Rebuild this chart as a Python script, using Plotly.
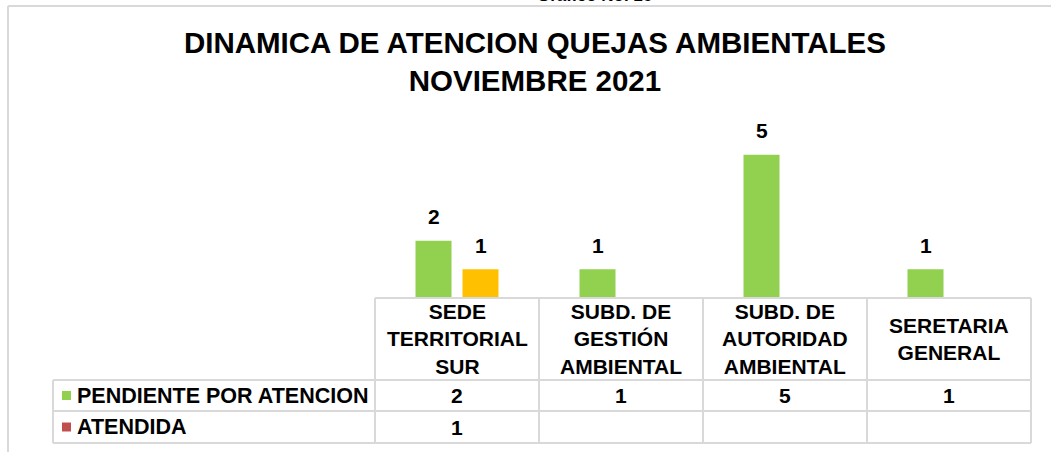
"""
チャート生成モジュール
Plotlyで苦情対応状況の棒グラフ（データテーブル付き）を描画
"""
import plotly.graph_objects as go


# データ
categories = ['SEDE<br>TERRITORIAL<br>SUR', 'SUBD. DE<br>GESTIÓN<br>AMBIENTAL',
              'SUBD. DE<br>AUTORIDAD<br>AMBIENTAL', 'SERETARIA<br>GENERAL']
pendiente = [2, 1, 5, 1]
atendida = [1, None, None, None]
series_names = ['PENDIENTE POR ATENCION', 'ATENDIDA']
bar_colors = ['#92D050', '#FFC000']
legend_colors = ['#92D050', '#C0504D']
title_text = 'DINAMICA DE ATENCION QUEJAS AMBIENTALES<br>NOVIEMBRE 2021'
caption_text = 'Gráfico No. 16'

FONT = 'Liberation Sans, Arial, sans-serif'
GRID = '#D9D9D9'


def px_x(p: float) -> float:
    """ピクセル位置（横）をpaper座標に変換"""
    return (p - 375) / 656


def px_y(p: float) -> float:
    """ピクセル位置（縦）をpaper座標に変換"""
    return (298 - p) / 172


def create_chart() -> go.Figure:
    """
    グループ棒グラフ＋データテーブルを生成

    Returns:
        Plotly Figure オブジェクト
    """
    fig = go.Figure()

    # 棒グラフ
    for name, values, color in zip(series_names, [pendiente, atendida], bar_colors):
        fig.add_trace(
            go.Bar(
                x=categories,
                y=values,
                name=name,
                marker=dict(color=color, line=dict(width=0)),
                showlegend=False,
                hoverinfo='skip'
            )
        )

    # データラベル（棒の上）
    for i, values in enumerate([pendiente, atendida]):
        shift = -23.5 if i == 0 else 23.5
        for cat, val in zip(categories, values):
            if val is None:
                continue
            fig.add_annotation(
                x=cat, y=val, xref='x', yref='y',
                text=str(val), showarrow=False,
                xshift=shift, yshift=24, yanchor='middle',
                font=dict(family=FONT, size=21, color='black', weight='bold')
            )

    # テーブル罫線
    line = dict(color=GRID, width=2)
    cols = [375, 539, 703, 867, 1031]
    for c in cols:
        fig.add_shape(type='line', xref='paper', yref='paper',
                      x0=px_x(c), x1=px_x(c), y0=px_y(298), y1=px_y(443), line=line)
    fig.add_shape(type='line', xref='paper', yref='paper',
                  x0=px_x(53), x1=px_x(53), y0=px_y(380), y1=px_y(443), line=line)
    fig.add_shape(type='line', xref='paper', yref='paper',
                  x0=px_x(375), x1=px_x(1031), y0=px_y(298), y1=px_y(298), line=line)
    for r in [380, 411, 443]:
        fig.add_shape(type='line', xref='paper', yref='paper',
                      x0=px_x(53), x1=px_x(1031), y0=px_y(r), y1=px_y(r), line=line)

    # グラフ外枠
    fig.add_shape(type='line', xref='paper', yref='paper',
                  x0=px_x(8), x1=px_x(8), y0=px_y(6), y1=px_y(470), line=line)
    fig.add_shape(type='line', xref='paper', yref='paper',
                  x0=px_x(8), x1=px_x(1070), y0=px_y(6), y1=px_y(6), line=line)

    # テーブル見出し（カテゴリ名）
    for cat in categories:
        fig.add_annotation(
            x=cat, y=px_y(339), xref='x', yref='paper',
            text=cat, showarrow=False, yanchor='middle',
            font=dict(family=FONT, size=21, color='black', weight='bold')
        )

    # テーブル値・凡例
    row_centers = [395.5, 427]
    for values, name, color, rc in zip([pendiente, atendida], series_names,
                                       legend_colors, row_centers):
        for cat, val in zip(categories, values):
            if val is None:
                continue
            fig.add_annotation(
                x=cat, y=px_y(rc), xref='x', yref='paper',
                text=str(val), showarrow=False, yanchor='middle',
                font=dict(family=FONT, size=21, color='black', weight='bold')
            )
        fig.add_shape(type='rect', xref='paper', yref='paper',
                      x0=px_x(62), x1=px_x(71), y0=px_y(rc - 4.5), y1=px_y(rc + 4.5),
                      fillcolor=color, line=dict(width=0))
        fig.add_annotation(
            x=px_x(75), y=px_y(rc), xref='paper', yref='paper',
            text=name, showarrow=False, xanchor='left', yanchor='middle',
            font=dict(family=FONT, size=21.5, color='black', weight='bold')
        )

    # 図番号（上端で切れている）
    fig.add_annotation(
        x=px_x(535), y=px_y(7), xref='paper', yref='paper',
        text=caption_text, showarrow=False, yanchor='bottom',
        font=dict(family=FONT, size=17, color='black', weight='bold')
    )

    # レイアウト設定
    fig.update_layout(
        width=1051,
        height=452,
        template='plotly_white',
        plot_bgcolor='white',
        paper_bgcolor='white',
        margin=dict(l=375, r=20, t=126, b=154),
        barmode='group',
        bargap=0.427,
        bargroupgap=0.234,
        title=dict(
            text=title_text,
            x=0.509, xanchor='center',
            y=1 - 53 / 452, yanchor='middle',
            font=dict(family=FONT, size=29.5, color='black', weight='bold')
        ),
        font=dict(family=FONT, color='black')
    )

    fig.update_xaxes(showticklabels=False, showgrid=False, zeroline=False,
                     showline=False, ticks='', range=[-0.5, 3.5])
    fig.update_yaxes(visible=False, showgrid=False, range=[0, 6])

    return fig


fig = create_chart()
# ページ余白をなくして原点を合わせる
fig.write_html("out.html", config={'displayModeBar': False},
               post_script="document.body.style.margin = '0';")
